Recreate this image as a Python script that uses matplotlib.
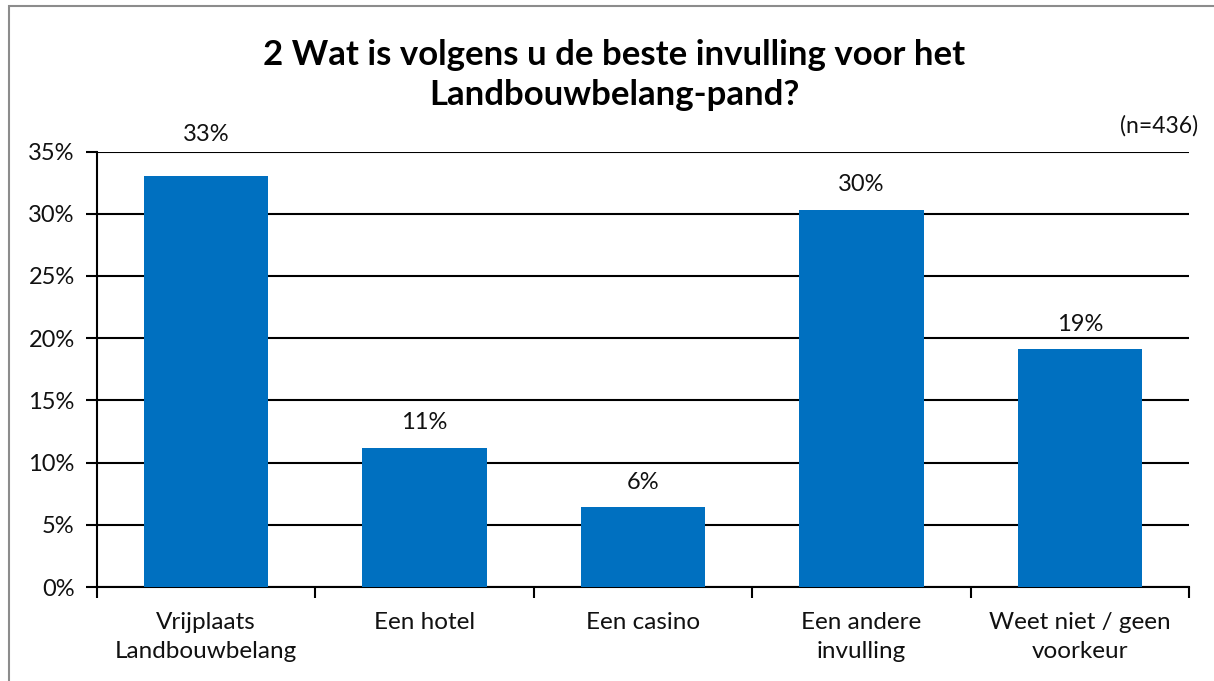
import matplotlib.pyplot as plt
from matplotlib.patches import Rectangle
from matplotlib.ticker import PercentFormatter, MultipleLocator, FixedLocator, NullFormatter

CATEGORIES = ["Vrijplaats\nLandbouwbelang", "Een hotel", "Een casino",
              "Een andere\ninvulling", "Weet niet / geen\nvoorkeur"]
VALUES = [33.0, 11.2, 6.4, 30.3, 19.1]
TITLE = "2 Wat is volgens u de beste invulling voor het\nLandbouwbelang-pand?"
N_LABEL = "(n=436)"

BAR_COLOR = "#0070C0"
TEXT_COLOR = "#111111"

plt.rcParams["font.family"] = ["Lato", "DejaVu Sans"]

fig = plt.figure(figsize=(12.14, 6.81), dpi=100)
fig.add_artist(Rectangle((9 / 1214, -0.01), 1.1, (681 - 6) / 681 + 0.01,
                         transform=fig.transFigure, fill=False,
                         edgecolor="#8c8c8c", linewidth=1.5))

ax = fig.add_axes([97 / 1214, 94 / 681, (1189 - 97) / 1214, (587 - 151.5) / 681])

x = range(len(CATEGORIES))
bars = ax.bar(x, VALUES, width=0.57, color=BAR_COLOR, zorder=3)
# excel pushed the first label a bit higher
label_pad = [30, 18, 18, 18, 18]
for b, v, pad in zip(bars, VALUES, label_pad):
    ax.annotate(f"{v:.0f}%", (b.get_x() + b.get_width() / 2, v),
                xytext=(0, pad), textcoords="offset points",
                ha="center", va="center", fontsize=17, color=TEXT_COLOR,
                annotation_clip=False)

ax.set_xlim(-0.5, len(CATEGORIES) - 0.5)
ax.set_ylim(0, 35)
ax.yaxis.set_major_locator(MultipleLocator(5))
ax.yaxis.set_major_formatter(PercentFormatter(decimals=0))
ax.grid(True, axis="y", color="black", linewidth=1.5, zorder=1)

ax.set_xticks(list(x))
ax.set_xticklabels(CATEGORIES, fontsize=17.5, color=TEXT_COLOR, linespacing=1.45)
ax.tick_params(axis="x", length=0, pad=18)
ax.xaxis.set_minor_locator(FixedLocator([i - 0.5 for i in range(len(CATEGORIES) + 1)]))
ax.xaxis.set_minor_formatter(NullFormatter())
ax.tick_params(axis="x", which="minor", length=8, width=1.5, color="black")
ax.tick_params(axis="y", length=8, width=1.5, labelsize=17, labelcolor=TEXT_COLOR, pad=8)

for side in ["top", "right"]:
    ax.spines[side].set_visible(False)
for side in ["left", "bottom"]:
    ax.spines[side].set_linewidth(1.5)
    ax.spines[side].set_color("black")

fig.text(614 / 1214, 1 - 75 / 681, TITLE, ha="center", va="center",
         fontsize=25, fontweight="bold", color="black", linespacing=1.3)
fig.text(1198 / 1214, 1 - 126 / 681, N_LABEL, ha="right", va="center",
         fontsize=16.5, color=TEXT_COLOR)

fig.savefig("out.png", dpi=100)
